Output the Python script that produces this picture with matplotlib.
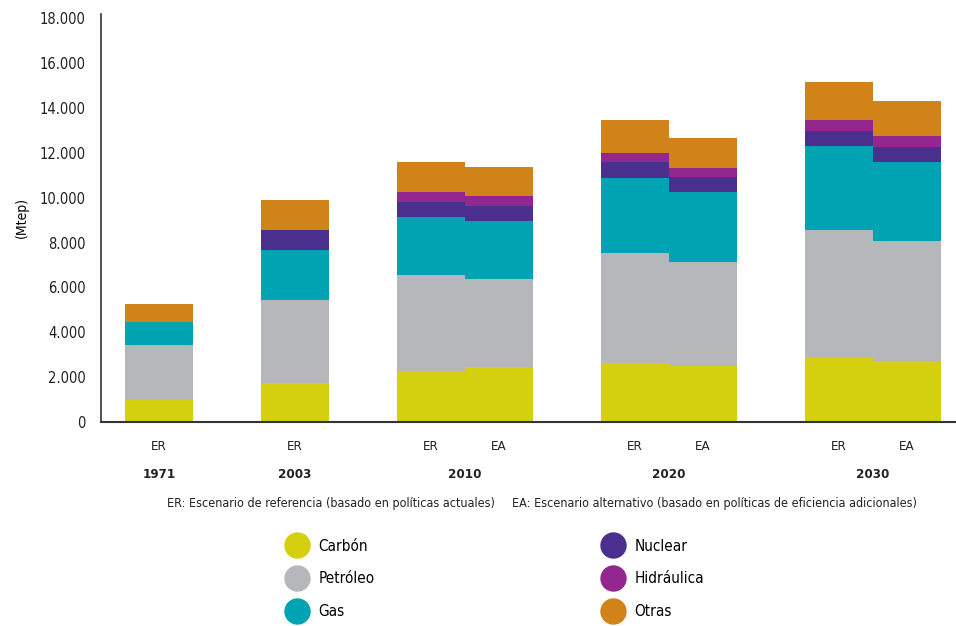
import matplotlib.pyplot as plt
from matplotlib.lines import Line2D
from matplotlib.ticker import FuncFormatter
from matplotlib.transforms import blended_transform_factory
from matplotlib import font_manager

plt.rcParams['font.family'] = ['DejaVu Sans']
# condensed face if one is installed
has_cond = any('Condensed' in f.name or f.stretch == 'condensed' for f in font_manager.fontManager.ttflist
               if 'DejaVu Sans' in f.name)
if has_cond:
    plt.rcParams['font.stretch'] = 'condensed'

# bars: 1971 ER, 2003 ER, 2010 ER/EA, 2020 ER/EA, 2030 ER/EA
scenarios = ['ER', 'ER', 'ER', 'EA', 'ER', 'EA', 'ER', 'EA']
positions = [0, 2, 4, 5, 7, 8, 10, 11]
years = ['1971', '2003', '2010', '2020', '2030']
year_pos = [0, 2, 4.5, 7.5, 10.5]

carbon = [960, 1730, 2270, 2450, 2630, 2520, 2890, 2700]
petroleo = [2470, 3730, 4280, 3910, 4910, 4630, 5690, 5360]
gas = [1040, 2210, 2610, 2620, 3330, 3130, 3720, 3520]
nuclear = [0, 910, 650, 640, 730, 650, 660, 670]
hidraulica = [0, 0, 470, 460, 390, 400, 510, 510]
otras = [790, 1310, 1300, 1310, 1480, 1360, 1700, 1580]

series = [carbon, petroleo, gas, nuclear, hidraulica, otras]
names = ['Carbón', 'Petróleo', 'Gas', 'Nuclear', 'Hidráulica', 'Otras']
colors = ['#D4D010', '#B6B7BA', '#00A3B1', '#4A2F8F', '#93278F', '#D18218']

fig = plt.figure(figsize=(9.56, 6.26), dpi=100)
ax = fig.add_axes([101 / 956, 1 - 422 / 626, 1 - 101 / 956, 408 / 626])

bottom = [0] * len(positions)
for vals, col in zip(series, colors):
    ax.bar(positions, vals, width=1.0, bottom=bottom, color=col, linewidth=0)
    bottom = [b + v for b, v in zip(bottom, vals)]

ax.set_xlim(-0.85, 11.72)
ax.set_ylim(0, 18200)
ax.set_yticks(range(0, 18001, 2000))
ax.yaxis.set_major_formatter(FuncFormatter(lambda v, p: f'{int(v):,}'.replace(',', '.')))
ax.set_xticks(positions)
ax.set_xticklabels(scenarios)
ax.tick_params(axis='y', length=0, labelsize=10.5, colors='#222222', pad=11)
ax.tick_params(axis='x', length=0, pad=13, labelsize=9.5, colors='#222222')
for s in ['top', 'right']:
    ax.spines[s].set_visible(False)
ax.spines['left'].set_color('#333333')
ax.spines['bottom'].set_color('#333333')
ax.spines['left'].set_linewidth(1.2)
ax.spines['bottom'].set_linewidth(1.5)
ax.set_ylabel('(Mtep)', fontsize=10, labelpad=8)

trans = blended_transform_factory(ax.transData, fig.transFigure)
for yr, xp in zip(years, year_pos):
    ax.text(xp, 1 - 475 / 626, yr, transform=trans, ha='center', va='center',
            fontsize=9.5, fontweight='bold', color='#222222')

note_size = 9 if has_cond else 8
fig.text(167 / 956, 1 - 503 / 626, 'ER: Escenario de referencia (basado en políticas actuales)',
         ha='left', va='center', fontsize=note_size, color='#222222')
fig.text(512 / 956, 1 - 503 / 626,
         'EA: Escenario alternativo (basado en políticas de eficiencia adicionales)',
         ha='left', va='center', fontsize=note_size, color='#222222')

handles = [Line2D([], [], marker='o', linestyle='none', markersize=18,
                  markerfacecolor=c, markeredgecolor=c) for c in colors]
fig.legend(handles, names, loc='upper left', bbox_to_anchor=(274 / 956, 1 - 525 / 626),
           ncol=2, frameon=False, fontsize=11, handletextpad=0.8,
           columnspacing=15.0, labelspacing=1.15, handlelength=1.2)

fig.savefig('out.png', dpi=100)
